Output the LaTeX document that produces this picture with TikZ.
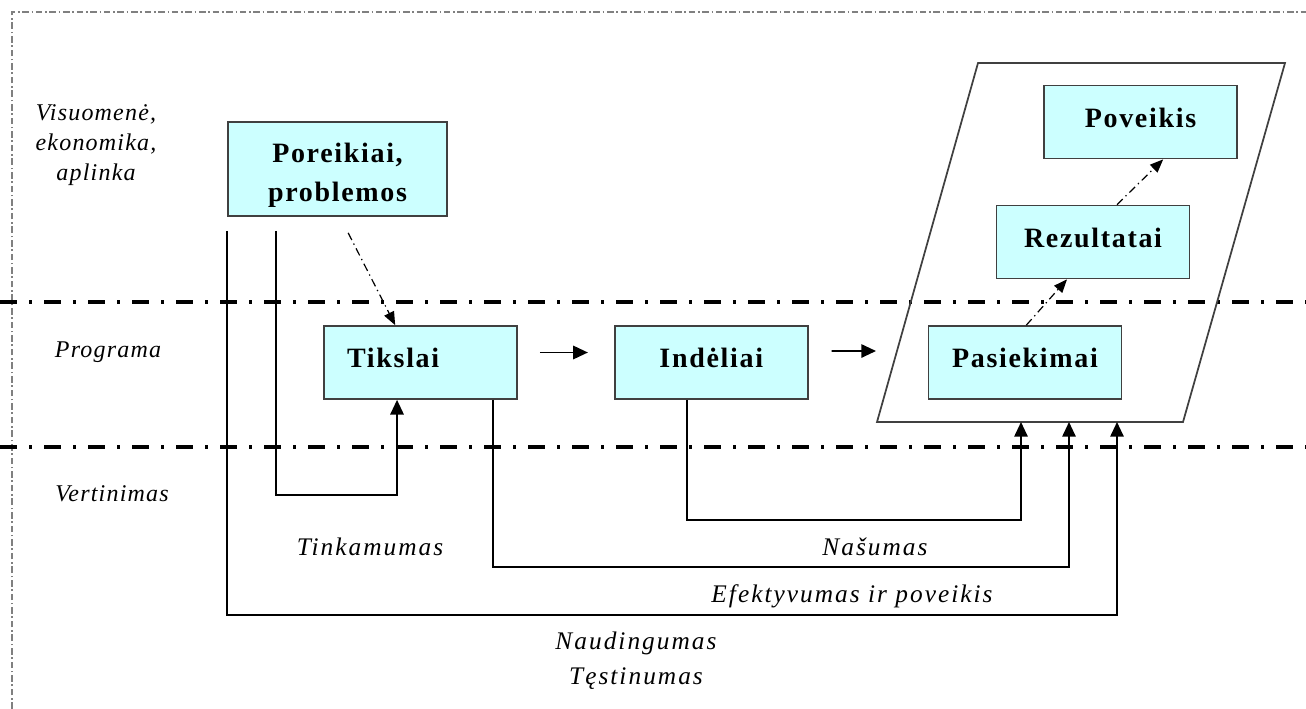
\documentclass[tikz,border=0pt]{standalone}
\usepackage{fontspec}
\setmainfont{Liberation Serif}
\newfontfamily\boxfont[LetterSpace=6]{Liberation Serif}
\newfontfamily\notefont[LetterSpace=8]{Liberation Serif}
\newfontfamily\levelfont[LetterSpace=5]{Liberation Serif}
\usepackage{xcolor}
\usetikzlibrary{arrows.meta,positioning}
\definecolor{boxcyan}{HTML}{CCFFFF}
\definecolor{boxline}{HTML}{404040}
\definecolor{framegray}{HTML}{808080}

\begin{document}
\begin{tikzpicture}[
    x=0.75pt, y=-0.75pt,
    cell/.style={rectangle, draw=boxline, line width=1.3pt, fill=boxcyan, minimum width=144.75pt, minimum height=54.75pt, inner sep=0pt, font=\boxfont\bfseries\fontsize{21}{29}\selectfont},
    box/.style={cell, text height=14.7pt, text depth=6.9pt},
    bigbox/.style={cell, minimum width=164.25pt, minimum height=70.5pt, align=center},
    note/.style={align=center, inner sep=0pt, font=\notefont\itshape\fontsize{19}{26}\selectfont},
    level/.style={align=center, inner sep=0pt, font=\levelfont\itshape\fontsize{18}{22.5}\selectfont},
    arrow/.style={-{Triangle[length=11pt,width=10pt]}, line width=1.4pt},
    dotarrow/.style={-{Triangle[length=10pt,width=8pt]}, line width=0.9pt, dash pattern=on 6pt off 3pt on 1pt off 3pt},
    sep/.style={line width=2.8pt, dash pattern=on 12.75pt off 9pt on 2.25pt off 9pt},
    border/.style={draw=framegray, line width=1.2pt, dash pattern=on 5pt off 2pt on 1.2pt off 2pt}
]
    \useasboundingbox (0,0) rectangle (1306,709);

    % frame and level lines
    \draw[border] (12,709) -- (12,12) -- (1306,12);
    \draw[sep] (0,302) -- (1306,302);
    \draw[sep] (0,447) -- (1306,447);

    % level names
    \node[level] (society) at (96,145) {Visuomenė,\\ekonomika,\\aplinka};
    \node[level] (program) at (108,352) {Programa};
    \node[level] (evaluation) at (112,494) {Vertinimas};

    % results area
    \draw[draw=boxline, line width=1.3pt] (877,422) -- (978,63) -- (1285,63) -- (1183,422) -- cycle;
    \coordinate (in1) at (1021,422);
    \coordinate (in2) at (1069,422);
    \coordinate (in3) at (1117,422);
    \coordinate (pin) at (876,351);

    \node[bigbox] (poreikiai) at (337.5,169) {\rule{0pt}{23.5pt}Poreikiai,\\problemos};
    \node[box, align=left, text width=110pt, inner xsep=17.4pt] (tikslai) at (420.5,362.5) {Tikslai};
    \node[box, right=72pt of tikslai] (indeliai) {Indėliai};
    \node[box, right=89.25pt of indeliai] (pasiekimai) {Pasiekimai};
    \node[box] (rezultatai) at (1093,242) {Rezultatai};
    \node[box] (poveikis) at (1140.5,122) {Poveikis};

    \draw[dotarrow] ([xshift=8pt,yshift=-12pt]poreikiai.south) -- ([xshift=-19pt]tikslai.north);
    \draw[arrow] ([xshift=16.5pt,yshift=7.5pt]tikslai.east) -- ([xshift=-19.5pt,yshift=7.5pt]indeliai.west);
    \draw[arrow] ([xshift=17.25pt,yshift=8.6pt]indeliai.east) -- (pin);
    \draw[dotarrow] ([xshift=1pt]pasiekimai.north) -- ([xshift=-19.5pt]rezultatai.south);
    \draw[dotarrow] ([xshift=18pt]rezultatai.north) -- ([xshift=17pt]poveikis.south);

    % evaluation loops
    \draw[arrow] ([yshift=-10.5pt]poreikiai.south west) -- ++(0,384) -| (in3);
    \draw[arrow] ([xshift=36.75pt,yshift=-10.5pt]poreikiai.south west) -- ++(0,264) -| ([xshift=-17.6pt]tikslai.south);
    \draw[arrow] ([xshift=-18.75pt]tikslai.south east) -- ++(0,167) -| (in2);
    \draw[arrow] ([xshift=-18pt]indeliai.south) -- ++(0,120) -| (in1);

    \node[note] (relevance) at (370,547) {Tinkamumas};
    \node[note] (efficiency) at (875,547) {Našumas};
    \node[note] (effectiveness) at (852,596) {Efektyvumas ir poveikis};
    \node[note, font=\notefont\itshape\fontsize{19}{26}\selectfont] (utility) at (636,661) {Naudingumas\\Tęstinumas};
\end{tikzpicture}
\end{document}
